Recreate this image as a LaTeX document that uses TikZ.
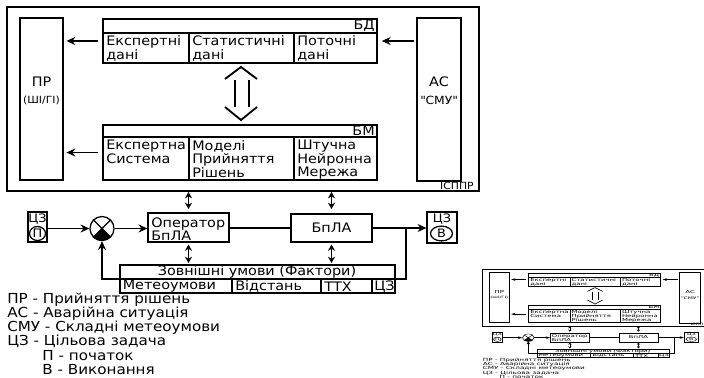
\documentclass[tikz,border=0pt]{standalone}
\usepackage{fontspec}
\setmainfont[FakeStretch=1.1]{DejaVu Sans}
\usetikzlibrary{positioning,arrows.meta,fit,calc,shapes.geometric}
\tikzset{
  ink/.style={line width=0.9pt},
  box/.style={draw, ink, inner sep=0pt},
  txt/.style={font=\fontsize{9.3}{9.6}\selectfont, inner sep=0pt},
  cell/.style={txt, anchor=north west, align=left},
  tag/.style={font=\fontsize{7}{7}\selectfont, inner sep=0pt},
  goal/.style={font=\fontsize{8.3}{8.3}\selectfont, inner sep=0pt},
  ring/.style={draw, ellipse, ink, inner sep=0pt, goal},
  edge/.style={-{Stealth[length=2.2mm, width=2mm]}, ink},
  both/.style={{Stealth[length=1.6mm, width=1.8mm]}-{Stealth[length=1.6mm, width=1.8mm]}, ink},
  key/.style={font=\fontsize{9.8}{10}\selectfont, align=left, anchor=north west, inner sep=0pt},
}
\newcommand\isppr{%
  % system frame
  \node[box, fit={(7,7) (479,191)}] (sys) {};
  \node[tag, anchor=south east] (sys-t) at (474,190) {ІСППР};
  \node[box, fit={(20,18) (63,180)}] (pr) {};
  \node[txt] (pr-t) at (41.5,82) {ПР};
  \node[tag] (pr-s) at (41.5,100) {(ШІ/ГІ)};
  \node[box, fit={(417,18) (461,181)}] (ac) {};
  \node[txt] (ac-t) at (439,82) {АС};
  \node[tag, font=\fontsize{8}{8}\selectfont] (ac-s) at (439,100) {\textquotedbl СМУ\textquotedbl};
  % data base
  \node[box, fit={(103,19) (377,63)}] (bd) {};
  \draw[ink] (103,33) -- (377,33) (189,33) -- (189,63) (294,33) -- (294,63);
  \node[txt, anchor=east] (bd-t) at (375,26) {БД};
  \node[cell] (bd1) at (106,35.5) {Експертні\\дані};
  \node[cell] (bd2) at (192,35.5) {Статистичні\\дані};
  \node[cell] (bd3) at (297,35.5) {Поточні\\дані};
  % model base
  \node[box, fit={(103,125) (377,180)}] (bm) {};
  \draw[ink] (103,137) -- (377,137) (189,137) -- (189,180) (294,137) -- (294,180);
  \node[txt, anchor=east] (bm-t) at (375,131) {БМ};
  \node[cell] (bm1) at (106,140) {Експертна\\Система};
  \node[cell] (bm2) at (192,140) {Моделі\\Прийняття\\Рішень};
  \node[cell] (bm3) at (297,140) {Штучна\\Нейронна\\Мережа};
  % exchange arrow
  \draw[line width=1.3pt] (225,79) -- (241,67) -- (257,79) (225,107) -- (241,120) -- (257,107);
  \draw[line width=1.3pt] (235,80) -- (235,107) (249,80) -- (249,107);
  \draw[edge, shorten <=3pt, shorten >=2pt] (bd.west) -- (bd.west -| pr.east);
  \draw[edge, shorten <=3pt, shorten >=2pt] (bm.west) -- (bm.west -| pr.east);
  \draw[edge, shorten <=2pt, shorten >=3pt] (ac.west |- bd.east) -- (bd.east);
  % control loop
  \node[box, fit={(28,212) (47,242)}] (czp) {};
  \node[goal] (czp-t) at (37.5,219) {ЦЗ};
  \node[ring, minimum width=0.4cm, minimum height=0.35cm] (czp-r) at (37.5,233.5) {П};
  \node[box, fit={(427,212) (457,243)}] (czv) {};
  \node[goal] (czv-t) at (442,219) {ЦЗ};
  \node[ring, minimum width=0.55cm, minimum height=0.37cm] (czv-r) at (441.5,233.5) {В};
  \node[circle, draw, ink, minimum size=0.6cm, inner sep=0pt] (sum) at (102,228.5) {};
  \draw[ink] (sum.north west) -- (sum.south east) (sum.north east) -- (sum.south west);
  \fill (sum.center) -- (sum.225) arc[start angle=135, end angle=45, radius=12] -- cycle;
  \node[box, fit={(148,213) (229,242)}] (op) {};
  \node[cell] (op-t) at (151,217.5) {Оператор\\БпЛА};
  \node[box, fit={(291,214) (372,242)}] (uav) {};
  \node[txt] (uav-t) at (uav) {БпЛА};
  \draw[edge] (czp.east |- sum) -- (sum.west);
  \draw[edge] (sum.east) -- (op.west |- sum);
  \draw[ink] (op.east |- uav) -- (uav.west);
  \draw[edge] (uav.east) -- (czv.west |- uav);
  % external conditions
  \node[box, fit={(120,265) (395,293)}] (zu) {};
  \draw[ink] (120,279) -- (395,279) (232,279) -- (232,293) (321,279) -- (321,293) (372,279) -- (372,293);
  \node[txt] (zu-t) at (257,272) {Зовнішні умови (Фактори)};
  \node[txt, anchor=west] (zu1) at (122.5,286.5) {Метеоумови};
  \node[txt, anchor=west] (zu2) at (235,286.5) {Відстань};
  \node[txt, anchor=west] (zu3) at (324,286.5) {ТТХ};
  \node[txt, anchor=west] (zu4) at (374,286.5) {ЦЗ};
  \coordinate (zl) at (120,279);
  \coordinate (zr) at (395,279);
  \coordinate (jn) at (406,228);
  \draw[edge] (zl) -| (sum.south);
  \draw[ink] (zr) -| (jn);
  \draw[both] (op.north |- 0,192) -- (op.north |- 0,209);
  \draw[both] (op.south |- 0,244.5) -- (op.south |- 0,263);
  \draw[both] (uav.north |- 0,192) -- (uav.north |- 0,209);
  \draw[both] (uav.south |- 0,244.5) -- (uav.south |- 0,263);
  % legend
  \node[key] (legend) at (7,293) {ПР - Прийняття рішень\\АС - Аварійна ситуація\\СМУ - Складні метеоумови\\ЦЗ - Цільова задача\\\hspace*{25pt}П - початок\\\hspace*{25pt}В - Виконання};
}

\begin{document}
\begin{tikzpicture}[x=0.025cm, y=-0.025cm]
  \useasboundingbox (0,0) rectangle (704,377);
  \isppr
  % small copy
  \begin{scope}
    \clip (480,262) rectangle (704,377);
    \begin{scope}[transform canvas={shift={(482.7,269)}, xscale=0.48, yscale=0.31}, name prefix=t-]
      \begin{scope}[shift={(-7,-7)}]
        \isppr
      \end{scope}
    \end{scope}
  \end{scope}
\end{tikzpicture}
\end{document}
